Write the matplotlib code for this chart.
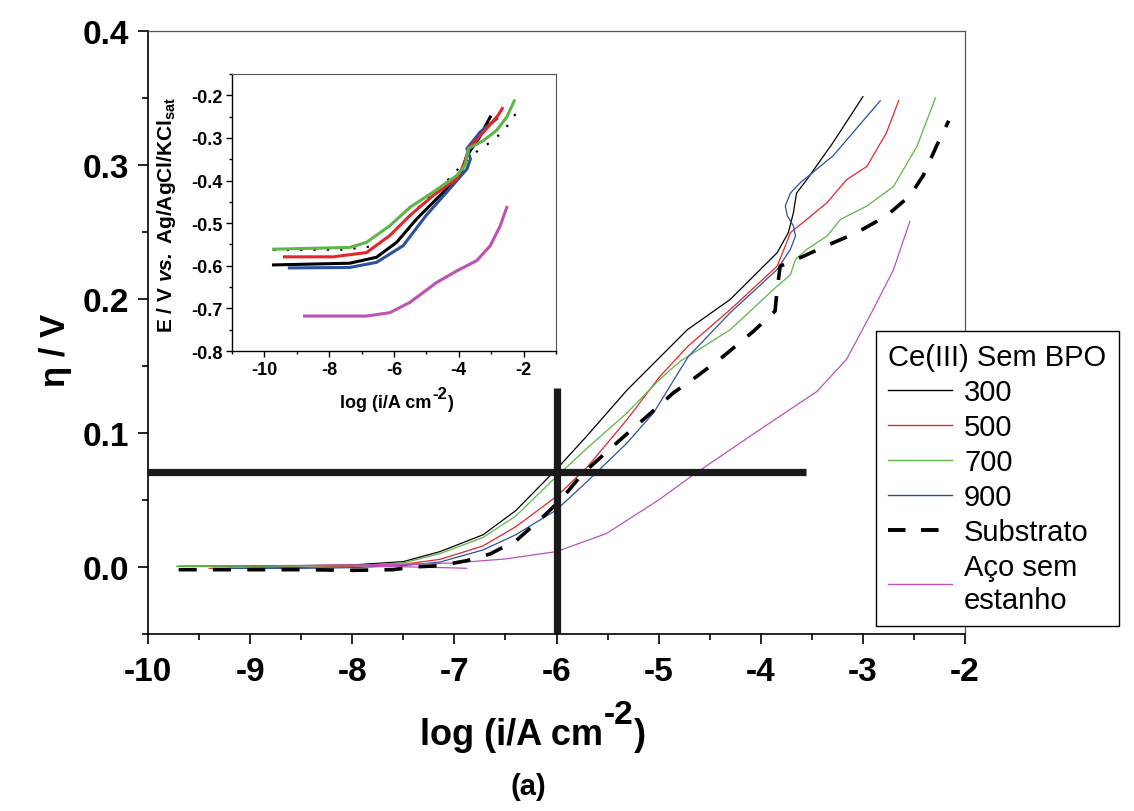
import matplotlib.pyplot as plt
from matplotlib.lines import Line2D
from matplotlib.ticker import MultipleLocator

plt.rcParams['font.family'] = ['Liberation Sans', 'DejaVu Sans']
plt.rcParams['axes.unicode_minus'] = False
plt.rcParams['mathtext.fontset'] = 'custom'
plt.rcParams['mathtext.rm'] = 'Liberation Sans'
plt.rcParams['mathtext.bf'] = 'Liberation Sans:bold'
plt.rcParams['mathtext.it'] = 'Liberation Sans:italic'
plt.rcParams['mathtext.bfit'] = 'Liberation Sans:bold:italic'

# main plot: overpotential vs log i
x_300 = [-9.7, -9.0, -8.5, -8.0, -7.5, -7.14, -6.72, -6.4, -6.0, -5.7, -5.31, -4.72, -4.30,
         -3.84, -3.73, -3.68, -3.65, -3.55, -3.29, -3.0]
y_300 = [0.0005, 0.0007, 0.001, 0.0015, 0.004, 0.0115, 0.024, 0.042, 0.073, 0.098, 0.132, 0.177, 0.1996,
         0.2345, 0.2495, 0.2645, 0.279, 0.289, 0.317, 0.351]

x_500 = [-9.4, -9.0, -8.5, -8.0, -7.5, -7.14, -6.72, -6.4, -6.0, -5.7, -5.31, -4.99, -4.71, -4.30,
         -3.84, -3.76, -3.71, -3.55, -3.35, -3.16, -2.96, -2.77, -2.65]
y_500 = [-0.001, -0.0008, -0.0003, 0.0005, 0.002, 0.0057, 0.0157, 0.030, 0.0526, 0.0745, 0.110, 0.142, 0.165, 0.192,
         0.2245, 0.2395, 0.2495, 0.2594, 0.272, 0.289, 0.299, 0.324, 0.348]

x_700 = [-9.72, -9.0, -8.5, -8.0, -7.5, -7.14, -6.72, -6.4, -6.0, -5.7, -5.31, -4.99, -4.79, -4.30,
         -3.84, -3.71, -3.66, -3.55, -3.35, -3.22, -2.96, -2.70, -2.47, -2.29]
y_700 = [0.0005, 0.0006, 0.0008, 0.001, 0.003, 0.010, 0.022, 0.038, 0.0675, 0.0887, 0.115, 0.140, 0.1535, 0.177,
         0.2096, 0.218, 0.2295, 0.237, 0.247, 0.2594, 0.2694, 0.284, 0.314, 0.350]

x_900 = [-9.2, -8.5, -8.0, -7.5, -7.14, -6.72, -6.4, -6.0, -5.7, -5.31, -5.05, -4.71, -4.30, -3.84,
         -3.71, -3.66, -3.68, -3.74, -3.76, -3.71, -3.61, -3.29, -2.83]
y_900 = [-0.001, -0.001, -0.0005, 0.001, 0.0037, 0.0127, 0.024, 0.0426, 0.0638, 0.0925, 0.115, 0.157, 0.1897, 0.222,
         0.237, 0.247, 0.2545, 0.262, 0.2694, 0.279, 0.287, 0.307, 0.348]

x_sub = [-9.7, -9.0, -8.5, -8.0, -7.6, -7.4, -7.14, -6.88, -6.65, -6.39, -6.13, -5.96, -5.74, -5.54, -5.34,
         -5.12, -4.855, -4.63, -4.37, -4.07, -3.86, -3.84, -3.81, -3.58, -3.32, -3.06, -2.77, -2.54, -2.41,
         -2.28, -2.16]
y_sub = [-0.002, -0.002, -0.002, -0.0025, -0.002, 0.0, 0.001, 0.0047, 0.0097, 0.020, 0.0376, 0.050, 0.070, 0.0837,
         0.0974, 0.112, 0.130, 0.142, 0.157, 0.176, 0.191, 0.207, 0.2245, 0.232, 0.241, 0.2495, 0.262, 0.277,
         0.292, 0.314, 0.333]

x_aco = [-8.75, -8.0, -7.5, -7.0, -6.5, -6.0, -5.51, -5.0, -4.66, -4.0, -3.45, -3.16, -2.90, -2.70, -2.54]
y_aco = [0.001, 0.0015, 0.002, 0.003, 0.006, 0.0115, 0.025, 0.050, 0.0688, 0.103, 0.131, 0.155, 0.192, 0.222, 0.258]
x_aco_tail = [-7.8, -7.4, -7.0, -6.88]
y_aco_tail = [0.0005, 0.0, -0.0007, -0.001]

# reference cross at log i = -6
cross_x = -6.0
cross_eta = 0.071

# inset: potential vs Ag/AgCl
ix_300 = [-9.72, -7.37, -6.54, -5.92, -5.30, -4.58, -3.96, -3.75, -3.39, -3.03]
iy_300 = [-0.598, -0.594, -0.580, -0.545, -0.490, -0.435, -0.388, -0.341, -0.302, -0.251]
ix_500 = [-9.38, -7.88, -6.85, -6.13, -5.51, -4.79, -4.06, -3.81, -3.70, -3.14, -2.79, -2.66]
iy_500 = [-0.579, -0.579, -0.569, -0.529, -0.482, -0.435, -0.396, -0.357, -0.325, -0.278, -0.247, -0.231]
ix_700 = [-9.72, -7.37, -6.85, -6.13, -5.51, -4.79, -4.06, -3.81, -3.70, -3.24, -2.83, -2.52, -2.29]
iy_700 = [-0.561, -0.557, -0.545, -0.506, -0.463, -0.427, -0.388, -0.365, -0.325, -0.306, -0.282, -0.251, -0.213]
ix_900 = [-9.23, -7.37, -6.54, -5.72, -5.01, -4.37, -3.75, -3.64, -3.75, -3.34, -2.83]
iy_900 = [-0.605, -0.604, -0.592, -0.553, -0.482, -0.427, -0.373, -0.349, -0.325, -0.286, -0.255]
ix_sub = [-9.72, -7.5, -6.54, -6.13, -5.72, -5.30, -4.48, -3.86, -3.34, -2.93, -2.62, -2.41, -2.15]
iy_sub = [-0.563, -0.562, -0.553, -0.529, -0.498, -0.467, -0.410, -0.360, -0.325, -0.306, -0.282, -0.263, -0.231]
ix_aco = [-8.76, -6.85, -6.13, -5.51, -4.68, -4.06, -3.45, -3.03, -2.72, -2.52]
iy_aco = [-0.718, -0.718, -0.710, -0.686, -0.639, -0.612, -0.588, -0.553, -0.506, -0.463]

labels = ['300', '500', '700', '900', 'Substrato', 'Aço sem\nestanho']
c_black = 'black'
c_red = '#e3262b'
c_green = '#5db646'
c_blue = '#2d50a0'
c_mag = '#bd52b3'

fig = plt.figure(figsize=(11.34, 8.12), dpi=100)
ax = fig.add_axes([0.1305, 0.218, 0.7205, 0.7426])


def sup_label(x, y, base, sup, end, size, supsize, rise):
    # text with a raised "-2" written with a plain hyphen
    t1 = fig.text(x, y, base, fontsize=size, fontweight='bold', ha='left', va='baseline')
    t2 = ax.annotate(sup, xy=(1, 0), xycoords=t1, xytext=(0.5, rise), textcoords='offset points',
                     fontsize=supsize, fontweight='bold', ha='left', va='bottom')
    ax.annotate(end, xy=(1, 0), xycoords=t2, xytext=(0.5, -rise), textcoords='offset points',
                fontsize=size, fontweight='bold', ha='left', va='bottom')


lw = 0.9
ax.plot(x_300, y_300, color=c_black, lw=lw)
ax.plot(x_500, y_500, color=c_red, lw=lw)
ax.plot(x_700, y_700, color=c_green, lw=lw)
ax.plot(x_900, y_900, color=c_blue, lw=lw)
ax.plot(x_aco, y_aco, color=c_mag, lw=lw)
ax.plot(x_aco_tail, y_aco_tail, color=c_mag, lw=lw)
ax.plot(x_sub, y_sub, color='black', lw=2.6, dashes=(5, 4.5))

# thick cross lines
ax.plot([-10, -3.555], [cross_eta, cross_eta], color='#1a1a1a', lw=5.2, solid_capstyle='butt')
ax.plot([cross_x, cross_x], [-0.05, 0.1336], color='#1a1a1a', lw=5.2, solid_capstyle='butt')

ax.set_xlim(-10, -2)
ax.set_ylim(-0.05, 0.4)
ax.xaxis.set_major_locator(MultipleLocator(1))
ax.xaxis.set_minor_locator(MultipleLocator(0.5))
ax.yaxis.set_major_locator(MultipleLocator(0.1))
ax.yaxis.set_minor_locator(MultipleLocator(0.05))
ax.yaxis.set_major_formatter(plt.FormatStrFormatter('%.1f'))
ax.tick_params(which='major', direction='out', length=7.5, width=1.2, labelsize=24, pad=6)
ax.tick_params(which='minor', direction='out', length=4.5, width=1.2)
ax.tick_params(axis='x', which='major', pad=8)
ax.tick_params(top=False, right=False)
for lab in ax.get_xticklabels() + ax.get_yticklabels():
    lab.set_fontweight('bold')
for s in ['left', 'bottom']:
    ax.spines[s].set_linewidth(1.2)
for s in ['top', 'right']:
    ax.spines[s].set_linewidth(0.9)
    ax.spines[s].set_color('#555555')

sup_label(420 / 1134, 1 - 745 / 812, 'log (i/A cm', '-2', ')', 26, 24, 16)
fig.text(55 / 1134, 1 - 350 / 812, 'η / V', fontsize=25, fontweight='bold', rotation=90,
         ha='center', va='center')
fig.text(528 / 1134, 1 - 787 / 812, '(a)', fontsize=21, fontweight='bold', ha='center', va='center')

# legend
handles = [Line2D([], [], color=c_black, lw=1),
           Line2D([], [], color=c_red, lw=1),
           Line2D([], [], color=c_green, lw=1),
           Line2D([], [], color=c_blue, lw=1),
           Line2D([], [], color='black', lw=2.8, dashes=(4.5, 4)),
           Line2D([], [], color=c_mag, lw=1)]
leg = fig.legend(handles, labels, loc='upper left', bbox_to_anchor=(876 / 1134, 1 - 332 / 812),
                 bbox_transform=fig.transFigure, title='Ce(III) Sem BPO', fontsize=21, title_fontsize=21,
                 alignment='left', frameon=True, fancybox=False, framealpha=1, edgecolor='black',
                 handlelength=2.2, handletextpad=0.4, labelspacing=0.24, borderpad=0.42,
                 borderaxespad=0)
leg.get_frame().set_linewidth(1.0)

# inset
ins = fig.add_axes([0.2046, 0.5665, 0.2857, 0.3411])
ilw = 2.2
ins.plot(ix_sub, iy_sub, color='black', lw=1.6, ls=(0, (1, 5)))
ins.plot(ix_300, iy_300, color=c_black, lw=ilw)
ins.plot(ix_900, iy_900, color=c_blue, lw=ilw)
ins.plot(ix_500, iy_500, color=c_red, lw=ilw)
ins.plot(ix_700, iy_700, color=c_green, lw=ilw)
ins.plot(ix_aco, iy_aco, color=c_mag, lw=ilw)
ins.set_xlim(-11, -1)
ins.set_ylim(-0.8, -0.15)
ins.xaxis.set_major_locator(MultipleLocator(2))
ins.xaxis.set_minor_locator(MultipleLocator(1))
ins.yaxis.set_major_locator(MultipleLocator(0.1))
ins.yaxis.set_minor_locator(MultipleLocator(0.05))
ins.yaxis.set_major_formatter(plt.FormatStrFormatter('%.1f'))
ins.tick_params(which='major', direction='out', length=4, width=1, labelsize=13, pad=3)
ins.tick_params(which='minor', direction='out', length=2.5, width=1)
for lab in ins.get_xticklabels() + ins.get_yticklabels():
    lab.set_fontweight('bold')
for s in ['left', 'bottom']:
    ins.spines[s].set_linewidth(1.0)
for s in ['top', 'right']:
    ins.spines[s].set_linewidth(0.8)
    ins.spines[s].set_color('#555555')

fig.text(166 / 1134, 1 - 215 / 812, r'E / V $\mathbfit{vs.}$ Ag/AgCl/KCl$_{\mathbf{sat}}$', fontsize=15,
         fontweight='bold', rotation=90, ha='center', va='center')
sup_label(340 / 1134, 1 - 408 / 812, 'log (i/A cm', '-2', ')', 13, 12, 7)

fig.savefig('out.png', dpi=100)
